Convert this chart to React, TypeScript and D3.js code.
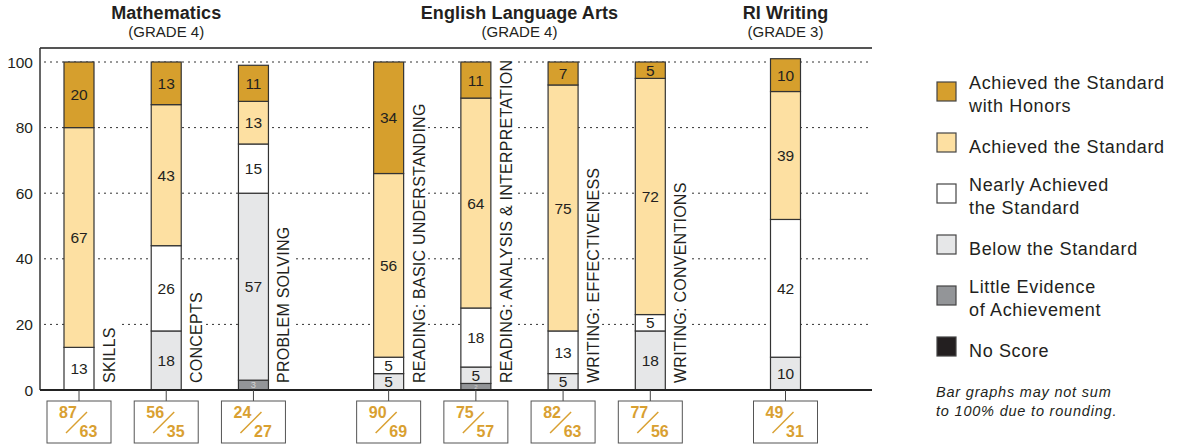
import React from "react";
import * as d3 from "d3";

// categories (bars), left to right; "" = no rotated label
const categories = [
  "SKILLS",
  "CONCEPTS",
  "PROBLEM SOLVING",
  "READING: BASIC UNDERSTANDING",
  "READING: ANALYSIS & INTERPRETATION",
  "WRITING: EFFECTIVENESS",
  "WRITING: CONVENTIONS",
  "",
];
const groupOfBar = [0, 0, 0, 1, 1, 1, 1, 2];
const groupTitles = ["Mathematics", "English Language Arts", "RI Writing"];
const groupGrades = ["(GRADE 4)", "(GRADE 4)", "(GRADE 3)"];

// percentages per achievement level
const honors = [20, 13, 11, 34, 11, 7, 5, 10];
const achieved = [67, 43, 13, 56, 64, 75, 72, 39];
const nearly = [13, 26, 15, 5, 18, 13, 5, 42];
const below = [0, 18, 57, 5, 5, 5, 18, 10];
const littleEvidence = [0, 0, 3, 0, 2, 0, 0, 0];
const noScore = [0, 0, 0, 0, 0, 0, 0, 0];

// boxes under the bars: school % / state %
const schoolPct = [87, 56, 24, 90, 75, 82, 77, 49];
const statePct = [63, 35, 27, 69, 57, 63, 56, 31];

const yTicks = [0, 20, 40, 60, 80, 100];

const levelKeys = ["noScore", "little", "below", "nearly", "achieved", "honors"];
const levelColors = ["#231F20", "#939598", "#E6E7E8", "#FFFFFF", "#FDE0A2", "#D69F2D"];
const legendLabels = [
  ["Achieved the Standard", "with Honors"],
  ["Achieved the Standard"],
  ["Nearly Achieved", "the Standard"],
  ["Below the Standard"],
  ["Little Evidence", "of Achievement"],
  ["No Score"],
];
const legendColors = ["#D69F2D", "#FDE0A2", "#FFFFFF", "#E6E7E8", "#939598", "#231F20"];

const FONT = "'Liberation Sans', Arial, Helvetica, sans-serif";
const INK = "#231F20";
const ORANGE = "#D9A031";

const W = 1179;
const H = 446;
const plotLeft = 40;
const plotRight = 872;
const plotTop = 48;
const barW = 30;
const groupGap = 0.55; // extra slot fraction between subject groups

let measureCtx: CanvasRenderingContext2D | null = null;
function textWidth(s: string, font: string, spacing = 0) {
  if (!measureCtx) measureCtx = document.createElement("canvas").getContext("2d");
  if (!measureCtx) return s.length * 9;
  measureCtx.font = font;
  return measureCtx.measureText(s).width + spacing * s.length;
}

export default function App() {
  const rows = categories.map((c, i) => ({
    cat: c,
    noScore: noScore[i],
    little: littleEvidence[i],
    below: below[i],
    nearly: nearly[i],
    achieved: achieved[i],
    honors: honors[i],
  }));
  const series = d3.stack<any>().keys(levelKeys)(rows);

  const y = d3.scaleLinear().domain([0, 100]).range([390, 62]);

  // slot index of each bar, with extra room between groups
  const slots = groupOfBar.map((g, i) => i + g * groupGap);
  const x = d3
    .scaleLinear()
    .domain([0, slots[slots.length - 1]])
    .range([79, 785.5]);
  const cx = (i: number) => x(slots[i]);

  const rotSize = 16;
  const rotSpacing = 0.25;
  const rotFont = `${rotSize}px ${FONT}`;

  return (
    <div style={{ position: "absolute", left: 0, top: 0 }}>
      <svg width={W} height={H} style={{ display: "block", fontFamily: FONT }}>
        <rect width={W} height={H} fill="#fff" />

        {/* group headers */}
        {groupTitles.map((t, g) => {
          const idx = groupOfBar.map((gg, i) => (gg === g ? i : -1)).filter((i) => i >= 0);
          const c = (cx(idx[0]) + cx(idx[idx.length - 1])) / 2;
          return (
            <g key={t}>
              <text x={c} y={19} textAnchor="middle" fontWeight="bold" fontSize={18} letterSpacing={0.1} fill={INK}>
                {t}
              </text>
              <text x={c} y={36.5} textAnchor="middle" fontSize={15} fill={INK}>
                {groupGrades[g]}
              </text>
            </g>
          );
        })}

        {/* gridlines */}
        {yTicks.filter((t) => t > 0).map((t) => (
          <line key={t} x1={plotLeft + 4} x2={plotRight} y1={y(t)} y2={y(t)} stroke="#333" strokeWidth={1} strokeDasharray="2,4" />
        ))}

        {/* rotated category labels with white backing */}
        {categories.map((c, i) => {
          if (!c) return null;
          const right = cx(i) + barW / 2;
          const len = textWidth(c, rotFont, rotSpacing);
          return (
            <g key={c} transform={`translate(${right + 21},383) rotate(-90)`}>
              <rect x={-3} y={-22} width={len + 10} height={25} fill="#fff" />
              <text x={0} y={0} fontSize={rotSize} letterSpacing={rotSpacing} fill={INK}>
                {c}
              </text>
            </g>
          );
        })}

        {/* frame */}
        <line x1={plotLeft} x2={plotRight} y1={plotTop} y2={plotTop} stroke="#555" strokeWidth={2} />
        <line x1={plotLeft} x2={plotLeft} y1={plotTop} y2={y(0)} stroke="#333" strokeWidth={1.5} />

        {/* y tick labels */}
        {yTicks.map((t) => (
          <text key={t} x={33} y={y(t) + 5.5} textAnchor="end" fontSize={15.5} fill={INK}>
            {t}
          </text>
        ))}

        {/* stacked bars */}
        <defs>
          {series.map((s, si) =>
            s.map((d, i) => (
              <clipPath key={`${si}-${i}`} id={`seg-${si}-${i}`}>
                <rect x={cx(i) - barW / 2} y={y(d[1])} width={barW} height={Math.max(0, y(d[0]) - y(d[1]))} />
              </clipPath>
            ))
          )}
        </defs>
        {series.map((s, si) => (
          <g key={s.key}>
            {s.map((d, i) => {
              const v = d[1] - d[0];
              if (v <= 0) return null;
              const top = y(d[1]);
              const h = y(d[0]) - top;
              const dark = si <= 1;
              const fs = Math.min(15.5, h * 0.95);
              return (
                <g key={i}>
                  <rect x={cx(i) - barW / 2} y={top} width={barW} height={h} fill={levelColors[si]} stroke="#333" strokeWidth={1.2} />
                  <text
                    x={cx(i)}
                    y={top + h / 2 + fs * 0.36}
                    textAnchor="middle"
                    fontSize={fs}
                    fill={dark ? "#d4d4d4" : INK}
                    clipPath={`url(#seg-${si}-${i})`}
                  >
                    {v}
                  </text>
                </g>
              );
            })}
          </g>
        ))}

        {/* x axis */}
        <line x1={plotLeft} x2={plotRight} y1={y(0)} y2={y(0)} stroke="#222" strokeWidth={2} />

        {/* score boxes */}
        {schoolPct.map((s, i) => {
          const c = cx(i);
          return (
            <g key={i}>
              <line x1={c} x2={c} y1={y(0)} y2={401} stroke="#444" strokeWidth={1} />
              <rect x={c - 32} y={401} width={64} height={42} fill="#fff" stroke="#555" strokeWidth={1} />
              <text x={c - 11} y={418} textAnchor="middle" fontWeight="bold" fontSize={16} fill={ORANGE}>
                {s}
              </text>
              <line x1={c - 13} y1={433} x2={c + 8} y2={412} stroke={ORANGE} strokeWidth={1.5} />
              <text x={c + 9.5} y={437} textAnchor="middle" fontWeight="bold" fontSize={16} fill={ORANGE}>
                {statePct[i]}
              </text>
            </g>
          );
        })}

        {/* legend */}
        {legendLabels.map((lines, k) => {
          const top = 82 + k * 51;
          const base = lines.length > 1 ? top + 7 : top + 20;
          return (
            <g key={k}>
              <rect x={937} y={top} width={19} height={19} fill={legendColors[k]} stroke="#444" strokeWidth={1.2} />
              {lines.map((ln, j) => (
                <text key={j} x={969} y={base + j * 23} fontSize={18} letterSpacing={0.65} fill={INK}>
                  {ln}
                </text>
              ))}
            </g>
          );
        })}
        <text x={936} y={397} fontSize={14.5} fontStyle="italic" letterSpacing={0.8} fill={INK}>
          Bar graphs may not sum
        </text>
        <text x={936} y={416} fontSize={14.5} fontStyle="italic" letterSpacing={0.8} fill={INK}>
          to 100% due to rounding.
        </text>
      </svg>
    </div>
  );
}
